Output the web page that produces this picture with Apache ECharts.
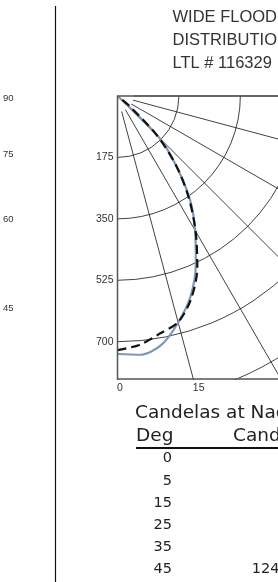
<!DOCTYPE html>
<html>
<head>
<meta charset="utf-8">
<script src="https://cdn.jsdelivr.net/npm/echarts@6/dist/echarts.min.js"></script>
<style>
  html, body { margin: 0; padding: 0; background: #fff; }
  #chart { width: 278px; height: 582px; }
</style>
</head>
<body>
<div id="chart"></div>
<script>
// 角度（自垂直向下起算）
const angles = [0, 5, 10, 15, 20, 25, 30, 35, 40, 45, 50, 55]
// 实测曲线（蓝灰实线）
const solidCd = [735, 740, 720, 668, 608, 528, 442, 360, 261, 170, 0, 0]
// 虚线曲线
const dashedCd = [724, 712, 688, 667, 614, 538, 445, 354, 262, 160, 45, 0]

// 刻度
const radiusTicks = [175, 350, 525, 700]
const bottomAngleTicks = [0, 15]
const sideAngleTicks = [90, 75, 60, 45]

// 文字
const titleLines = ['WIDE FLOOD', 'DISTRIBUTION', 'LTL # 116329']
const tableTitle = 'Candelas at Nadir'
const tableHeads = ['Deg', 'Candela']
const tableDeg = [0, 5, 15, 25, 35, 45]
const tableCand = ['', '', '', '', '', '124']

// 布局
const CX = 117.5
const CY = 96
const BOTTOM = 379
const RMAX = 1050
const PX_PER_CD = 0.351
const FONT = '"Liberation Sans", Arial, sans-serif'
const TABLE_FONT = '"DejaVu Sans", sans-serif'

const chart = echarts.init(document.getElementById('chart'))

const graphic = []

// 左侧分隔线
graphic.push({
  type: 'line', z: 110,
  shape: { x1: 55.5, y1: 6, x2: 55.5, y2: 582 },
  style: { stroke: '#111', lineWidth: 1.2 }
})

// 左侧（相邻图）角度标签
sideAngleTicks.forEach(a => {
  const y = 98 + (a === 90 ? 0 : 210 / Math.tan(a * Math.PI / 180))
  graphic.push({
    type: 'text', z: 110, x: 3, y: y,
    style: { text: String(a), font: '9.5px ' + FONT, fill: '#333', textAlign: 'left', textVerticalAlign: 'middle' }
  })
})

// 中心留白：径向线不画到原点
graphic.push({
  type: 'circle', z: 1,
  shape: { cx: CX, cy: CY, r: 16 },
  style: { fill: '#fff' }
})

// 底部遮罩，裁掉框外的网格线
graphic.push({
  type: 'rect', z: 100,
  shape: { x: 100, y: BOTTOM + 1, width: 200, height: 120 },
  style: { fill: '#fff' }
})

// 边框
graphic.push({
  type: 'polyline', z: 105,
  shape: { points: [[300, CY], [CX, CY], [CX, BOTTOM], [300, BOTTOM]] },
  style: { stroke: '#555', lineWidth: 1.5, fill: null }
})

// 半径标签
radiusTicks.forEach(v => {
  graphic.push({
    type: 'text', z: 110, x: 113.5, y: CY + v * PX_PER_CD,
    style: { text: String(v), font: '10.5px ' + FONT, fill: '#333', textAlign: 'right', textVerticalAlign: 'middle' }
  })
})

// 底部角度标签
bottomAngleTicks.forEach(a => {
  graphic.push({
    type: 'text', z: 110, x: CX + (BOTTOM - CY) * Math.tan(a * Math.PI / 180) - 0.5, y: BOTTOM + 9,
    style: { text: String(a), font: '10.5px ' + FONT, fill: '#333', textAlign: 'left', textVerticalAlign: 'middle' }
  })
})

// 标题
titleLines.forEach((t, i) => {
  graphic.push({
    type: 'text', z: 110, x: 172.5, y: 17 + i * 23,
    style: { text: t, font: '16.5px ' + FONT, fill: '#333', textAlign: 'left', textVerticalAlign: 'middle' }
  })
})

// 表格
graphic.push({
  type: 'text', z: 110, x: 135, y: 413,
  style: { text: tableTitle, font: '18.5px ' + TABLE_FONT, fill: '#222', textAlign: 'left', textVerticalAlign: 'middle' }
})
graphic.push({
  type: 'text', z: 110, x: 136, y: 436,
  style: { text: tableHeads[0], font: '18.5px ' + TABLE_FONT, fill: '#222', textAlign: 'left', textVerticalAlign: 'middle' }
})
graphic.push({
  type: 'text', z: 110, x: 233, y: 436,
  style: { text: tableHeads[1], font: '18.5px ' + TABLE_FONT, fill: '#222', textAlign: 'left', textVerticalAlign: 'middle' }
})
graphic.push({
  type: 'line', z: 110,
  shape: { x1: 136, y1: 448, x2: 300, y2: 448 },
  style: { stroke: '#111', lineWidth: 2 }
})
tableDeg.forEach((d, i) => {
  const y = 458.7 + i * 22.2
  graphic.push({
    type: 'text', z: 110, x: 172, y: y,
    style: { text: String(d), font: '14.5px ' + TABLE_FONT, fill: '#222', textAlign: 'right', textVerticalAlign: 'middle' }
  })
  if (tableCand[i]) {
    graphic.push({
      type: 'text', z: 110, x: 251.7, y: y,
      style: { text: tableCand[i], font: '14.5px ' + TABLE_FONT, fill: '#222', textAlign: 'left', textVerticalAlign: 'middle' }
    })
  }
})

const option = {
  animation: false,
  polar: {
    center: [CX, CY],
    radius: RMAX * PX_PER_CD
  },
  angleAxis: {
    type: 'value',
    min: 0,
    max: 90,
    interval: 15,
    startAngle: 270,
    endAngle: 360,
    clockwise: false,
    axisLine: { show: false },
    axisTick: { show: false },
    axisLabel: { show: false },
    splitLine: { lineStyle: { color: '#111', width: 0.8 } }
  },
  radiusAxis: {
    type: 'value',
    min: 0,
    max: RMAX,
    interval: 175,
    axisLine: { show: false },
    axisTick: { show: false },
    axisLabel: { show: false },
    splitLine: { lineStyle: { color: '#111', width: 0.8 } }
  },
  series: [
    {
      name: 'Solid',
      type: 'line',
      coordinateSystem: 'polar',
      showSymbol: false,
      smooth: 0.3,
      data: angles.map((a, i) => [solidCd[i], a]),
      lineStyle: { color: '#7f97b4', width: 2.2 },
      z: 3
    },
    {
      name: 'Dashed',
      type: 'line',
      coordinateSystem: 'polar',
      showSymbol: false,
      smooth: 0.3,
      data: angles.map((a, i) => [dashedCd[i], a]),
      lineStyle: { color: '#111', width: 2.2, type: [9, 5] },
      z: 4
    }
  ],
  graphic: graphic
}

chart.setOption(option)
</script>
</body>
</html>
